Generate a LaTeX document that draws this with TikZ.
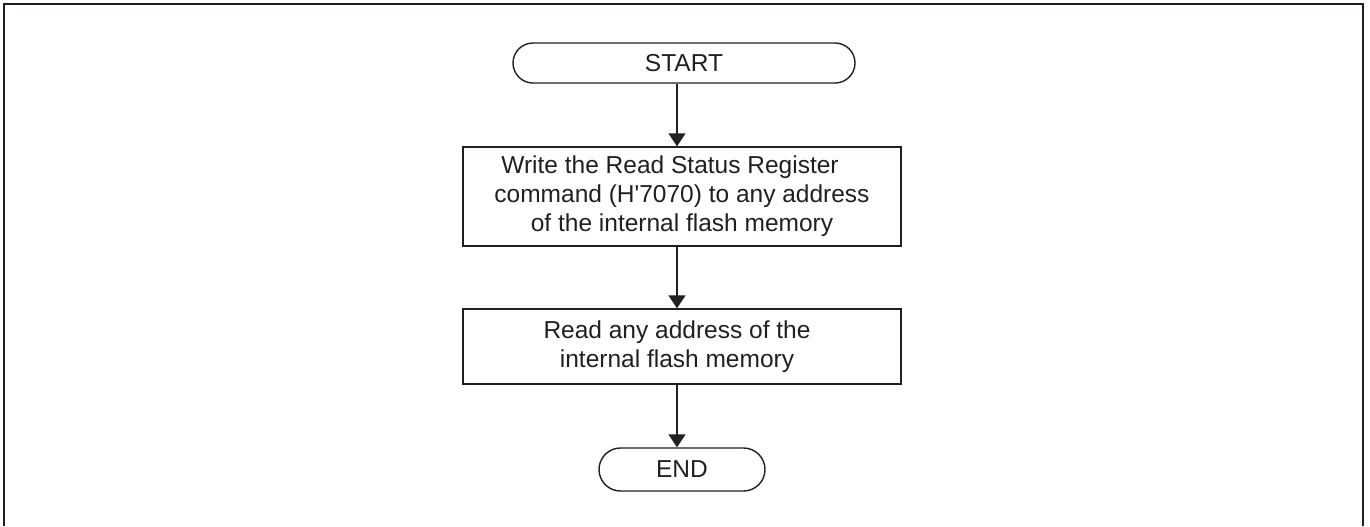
\documentclass[tikz,border=0pt]{standalone}
\usepackage{fontspec}
\setmainfont{Liberation Sans}
\usetikzlibrary{arrows.meta,shapes.misc}
\definecolor{ink}{HTML}{231F20}
\begin{document}
\begin{tikzpicture}[x=0.5pt,y=-0.5pt,
  every node/.style={font=\fontsize{12.25pt}{14.5pt}\selectfont, text=ink},
  term/.style={draw=ink, line width=0.7pt, rounded rectangle, inner sep=0pt},
  procbox/.style={draw=ink, line width=0.7pt, rectangle, inner sep=0pt, align=center},
  flow/.style={draw=ink, line width=0.7pt, -{Triangle[width=8.5pt,length=6.5pt]}},
  frame/.style={draw=ink, line width=1pt}]
\useasboundingbox (0,0) rectangle (1370,526);
\draw[frame] (4,526) -- (4,4) -- (1363,4) -- (1363,526);
\node[term, minimum width=171pt, minimum height=20pt] (start) at (684,63) {START};
\node[procbox, minimum width=219pt, minimum height=49.5pt] (write) at (682,196.5)
  {Write the Read Status Register\hspace*{12pt}\\
   command (H\textquotesingle 7070) to any address\hspace*{12pt}\\
   \hspace*{2pt}of the internal flash memory\hspace*{2pt}};
\node[procbox, minimum width=219pt, minimum height=37.5pt] (read) at (682,346.5)
  {Read any address of the\hspace*{5pt}\\
   internal flash memory\hspace*{5pt}};
\node[term, minimum width=83pt, minimum height=21.5pt] (stop) at (682,469.5) {END};
\coordinate (ax) at (677,0);
\draw[flow] (start.south -| ax) -- (write.north -| ax);
\draw[flow] (write.south -| ax) -- (read.north -| ax);
\draw[flow] (read.south -| ax) -- (stop.north -| ax);
\end{tikzpicture}
\end{document}
